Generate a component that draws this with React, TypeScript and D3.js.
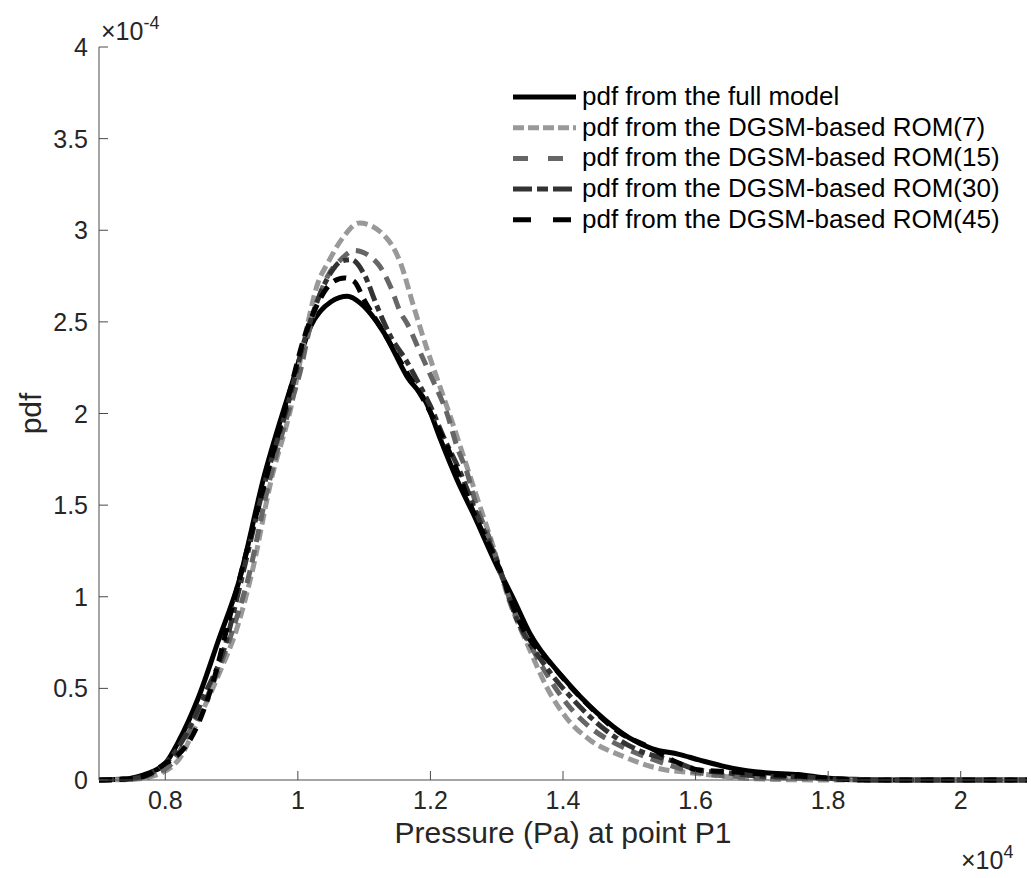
import React from "react"
import * as d3 from "d3"

// pressure in units of 1e4 Pa, pdf in units of 1e-4
const fullX = [0.7, 0.74, 0.76, 0.78, 0.8, 0.82, 0.85, 0.88, 0.91, 0.95, 0.99, 1.02, 1.05, 1.075, 1.095, 1.13, 1.165, 1.195, 1.215, 1.24, 1.265, 1.3, 1.325, 1.35, 1.4, 1.45, 1.5, 1.535, 1.575, 1.605, 1.655, 1.705, 1.755, 1.8, 1.85, 1.9, 2.1]
const fullY = [0, 0.005, 0.02, 0.045, 0.09, 0.21, 0.45, 0.76, 1.07, 1.67, 2.15, 2.48, 2.61, 2.64, 2.6, 2.44, 2.2, 2.05, 1.86, 1.64, 1.45, 1.17, 0.99, 0.8, 0.56, 0.37, 0.23, 0.17, 0.14, 0.11, 0.065, 0.04, 0.03, 0.01, 0.003, 0, 0]

const rom7X = [0.7, 0.75, 0.78, 0.82, 0.85, 0.88, 0.91, 0.93, 0.96, 0.99, 1.013, 1.03, 1.045, 1.068, 1.093, 1.128, 1.155, 1.175, 1.195, 1.215, 1.235, 1.255, 1.275, 1.295, 1.315, 1.35, 1.375, 1.405, 1.44, 1.49, 1.555, 1.58, 1.655, 1.72, 1.8, 2.1]
const rom7Y = [0, 0.003, 0.02, 0.11, 0.33, 0.57, 0.85, 1.12, 1.64, 2.04, 2.46, 2.71, 2.82, 2.96, 3.04, 2.98, 2.82, 2.58, 2.35, 2.14, 1.93, 1.71, 1.49, 1.27, 1.02, 0.71, 0.51, 0.34, 0.22, 0.13, 0.055, 0.045, 0.015, 0.003, 0, 0]

const rom15X = [0.7, 0.75, 0.78, 0.81, 0.84, 0.87, 0.9, 0.925, 0.955, 0.985, 1.005, 1.015, 1.045, 1.065, 1.085, 1.12, 1.14, 1.155, 1.165, 1.185, 1.205, 1.225, 1.24, 1.255, 1.27, 1.29, 1.31, 1.32, 1.345, 1.375, 1.405, 1.44, 1.49, 1.53, 1.58, 1.63, 1.69, 1.76, 1.85, 1.9, 2.1]
const rom15Y = [0, 0.005, 0.03, 0.09, 0.29, 0.51, 0.8, 1.1, 1.6, 2.0, 2.25, 2.42, 2.75, 2.84, 2.89, 2.82, 2.69, 2.55, 2.49, 2.33, 2.17, 2.0, 1.82, 1.68, 1.49, 1.31, 1.09, 0.98, 0.78, 0.58, 0.42, 0.29, 0.18, 0.12, 0.06, 0.027, 0.016, 0.01, 0.002, 0, 0]

const rom30X = [0.7, 0.75, 0.78, 0.81, 0.83, 0.86, 0.89, 0.91, 0.95, 0.985, 1.01, 1.03, 1.05, 1.065, 1.08, 1.1, 1.12, 1.14, 1.165, 1.18, 1.2, 1.22, 1.245, 1.27, 1.3, 1.33, 1.37, 1.415, 1.465, 1.515, 1.56, 1.605, 1.645, 1.7, 1.76, 1.82, 1.88, 2.1]
const rom30Y = [0, 0.008, 0.04, 0.13, 0.24, 0.47, 0.73, 1.02, 1.62, 2.05, 2.4, 2.62, 2.77, 2.83, 2.84, 2.76, 2.58, 2.42, 2.28, 2.18, 2.04, 1.87, 1.68, 1.45, 1.2, 0.88, 0.64, 0.44, 0.27, 0.16, 0.11, 0.055, 0.04, 0.02, 0.016, 0.005, 0, 0]

const rom45X = [0.7, 0.75, 0.78, 0.8, 0.81, 0.845, 0.87, 0.9, 0.95, 0.985, 1.01, 1.03, 1.05, 1.07, 1.085, 1.1, 1.13, 1.16, 1.195, 1.225, 1.27, 1.3, 1.335, 1.385, 1.435, 1.485, 1.53, 1.57, 1.605, 1.655, 1.71, 1.76, 1.8, 1.86, 2.1]
const rom45Y = [0, 0.008, 0.04, 0.09, 0.11, 0.27, 0.51, 0.93, 1.62, 2.08, 2.42, 2.6, 2.71, 2.74, 2.72, 2.62, 2.44, 2.25, 2.04, 1.82, 1.42, 1.19, 0.86, 0.62, 0.42, 0.26, 0.18, 0.1, 0.055, 0.045, 0.03, 0.02, 0.008, 0, 0]

const xTicks = [0.8, 1, 1.2, 1.4, 1.6, 1.8, 2]
const yTicks = [0, 0.5, 1, 1.5, 2, 2.5, 3, 3.5, 4]

const seriesNames = [
  "pdf from the full model",
  "pdf from the DGSM-based ROM(7)",
  "pdf from the DGSM-based ROM(15)",
  "pdf from the DGSM-based ROM(30)",
  "pdf from the DGSM-based ROM(45)",
]

const series = [
  { xs: fullX, ys: fullY, color: "#000000", dash: "none", legendDash: "none" },
  { xs: rom7X, ys: rom7Y, color: "#999999", dash: "11,5", legendDash: "11,4" },
  { xs: rom15X, ys: rom15Y, color: "#666666", dash: "13,8", legendDash: "15,20" },
  { xs: rom30X, ys: rom30Y, color: "#333333", dash: "15,5,6,5", legendDash: "19,5,11,5" },
  { xs: rom45X, ys: rom45Y, color: "#000000", dash: "13,8", legendDash: "18,22" },
]

const W = 1034
const H = 878
const margin = { left: 99, right: 7, top: 47, bottom: 98 }
const font = "'Liberation Sans', Arial, Helvetica, sans-serif"
const axisColor = "#4a4a4a"

export default function App() {
  const x = d3.scaleLinear().domain([0.7, 2.1]).range([margin.left, W - margin.right])
  const y = d3.scaleLinear().domain([0, 4]).range([H - margin.bottom, margin.top])

  const line = d3
    .line<[number, number]>()
    .x((d) => x(d[0]))
    .y((d) => y(d[1]))
    .curve(d3.curveMonotoneX)

  const x0 = x(0.7)
  const y0 = y(0)

  return (
    <svg
      width={W}
      height={H}
      style={{ position: "absolute", left: 0, top: 0, background: "#fff" }}
      fontFamily={font}
    >
      {/* curves */}
      {series.map((s, i) => (
        <path
          key={i}
          d={line(s.xs.map((v, j) => [v, s.ys[j]] as [number, number])) || ""}
          fill="none"
          stroke={s.color}
          strokeWidth={5}
          strokeDasharray={s.dash}
          strokeLinejoin="round"
        />
      ))}

      {/* axes: left and bottom only, ticks pointing inward */}
      <line x1={x0} x2={x0} y1={y(4)} y2={y0} stroke={axisColor} strokeWidth={1} />
      <line x1={x0} x2={x(2.1)} y1={y0} y2={y0} stroke={axisColor} strokeWidth={1} />
      {xTicks.map((t) => (
        <g key={"x" + t}>
          <line x1={x(t)} x2={x(t)} y1={y0} y2={y0 - 9} stroke={axisColor} />
          <text x={x(t)} y={y0 + 29} textAnchor="middle" fontSize={25} fill="#262626">
            {t}
          </text>
        </g>
      ))}
      {yTicks.map((t) => (
        <g key={"y" + t}>
          <line x1={x0} x2={x0 + 9} y1={y(t)} y2={y(t)} stroke={axisColor} />
          <text x={x0 - 11} y={y(t) + 9} textAnchor="end" fontSize={25} fill="#262626">
            {t}
          </text>
        </g>
      ))}

      {/* exponent multipliers */}
      <text x={101} y={40} fontSize={25} fill="#262626">
        ×10
        <tspan dy={-11} fontSize={18}>-4</tspan>
      </text>
      <text x={961} y={869} fontSize={25} fill="#262626">
        ×10
        <tspan dy={-11} fontSize={18}>4</tspan>
      </text>

      {/* axis titles */}
      <text x={563} y={843} textAnchor="middle" fontSize={30} fill="#262626">
        Pressure (Pa) at point P1
      </text>
      <text
        transform={`translate(41,${(y(4) + y0) / 2}) rotate(-90)`}
        textAnchor="middle"
        fontSize={30}
        fill="#262626"
      >
        pdf
      </text>

      {/* legend */}
      {series.map((s, i) => {
        const ly = 97 + i * 30.7
        return (
          <g key={"l" + i}>
            <line
              x1={513}
              x2={576}
              y1={ly}
              y2={ly}
              stroke={s.color}
              strokeWidth={5}
              strokeDasharray={s.legendDash}
            />
            <text x={582} y={ly + 8} fontSize={26} fill="#000">
              {seriesNames[i]}
            </text>
          </g>
        )
      })}
    </svg>
  )
}
